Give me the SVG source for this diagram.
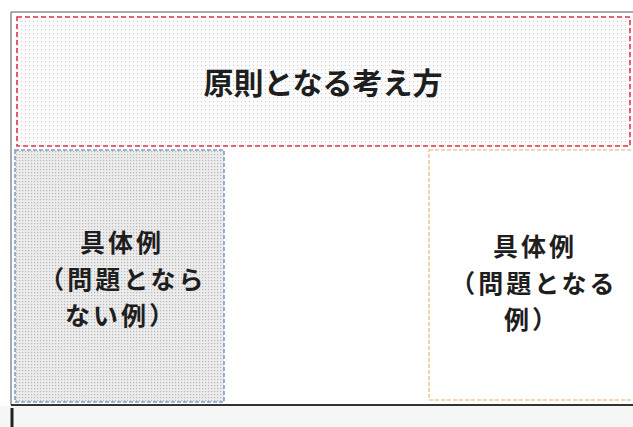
<svg xmlns="http://www.w3.org/2000/svg" width="633" height="427" viewBox="0 0 633 427">
<style>
.t{font-family:"Noto Sans CJK JP","Noto Sans",sans-serif;font-weight:bold;font-size:25px;letter-spacing:3px;fill:#1e1e1e;text-anchor:middle}
.h{font-family:"Noto Sans CJK JP","Noto Sans",sans-serif;font-weight:bold;font-size:30px;fill:#1e1e1e;text-anchor:middle}
.frame{fill:none;stroke:#8a8f94;stroke-width:1.5}
</style>
<defs>
<pattern id="dots" width="4" height="4" patternUnits="userSpaceOnUse">
<rect width="4" height="4" fill="#fbfbfb"/>
<rect x="1" y="1" width="1" height="1" fill="#c8c8c8"/>
</pattern>
<pattern id="dots2" width="3" height="3" patternUnits="userSpaceOnUse">
<rect width="3" height="3" fill="#ececec"/>
<rect x="1" y="1" width="1.2" height="1.2" fill="#b8b8b8"/>
</pattern>
</defs>
<rect width="633" height="427" fill="#ffffff"/>
<rect x="0" y="406" width="633" height="21" fill="#f6f6f6"/>
<g id="frame">
<line x1="11" y1="12" x2="633" y2="12" class="frame"/>
<line x1="11" y1="12" x2="11" y2="405" class="frame"/>
<line x1="11" y1="405" x2="633" y2="405" stroke="#333" stroke-width="2"/>
<line x1="12" y1="408" x2="12" y2="427" stroke="#222" stroke-width="3"/>
</g>
<g id="principle">
<rect x="17" y="17" width="613" height="129" fill="url(#dots)" stroke="#e0334a" stroke-width="1.6" stroke-dasharray="5,3"/>
<text class="h" x="323" y="94">原則となる考え方</text>
</g>
<g id="example-ok">
<rect x="15" y="150" width="209" height="252" fill="url(#dots2)" stroke="#7f9fc9" stroke-width="1.6" stroke-dasharray="4,2"/>
<text class="t"><tspan x="122" y="252">具体例</tspan><tspan x="123" y="288.5">（問題となら</tspan><tspan x="121" y="325">ない例）</tspan></text>
</g>
<g id="example-ng">
<rect x="429" y="150" width="210" height="250" fill="#ffffff" stroke="#f2c79a" stroke-width="1.6" stroke-dasharray="4,2"/>
<text class="t"><tspan x="535" y="256">具体例</tspan><tspan x="534" y="292.5">（問題となる</tspan><tspan x="532" y="329">例）</tspan></text>
</g>
<g id="connectors"/>
</svg>
